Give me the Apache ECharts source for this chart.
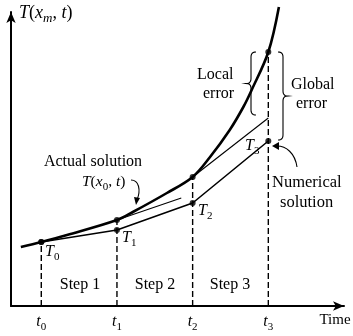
<!DOCTYPE html>
<html><head><meta charset="utf-8">
<script src="https://cdn.jsdelivr.net/npm/echarts@6/dist/echarts.min.js"></script>
<style>html,body{margin:0;padding:0;background:#fff}#c{width:353px;height:336px}</style>
</head><body><div id="c"></div>
<script>
// ---- data ----
const stepTimes = [0.4, 1.4, 2.4, 3.4];          // t0..t3
const timeSubs = ['0', '1', '2', '3'];
const curveTime = [0.13, 0.4, 0.74, 1.4, 1.61, 2.06, 2.4, 2.63, 2.89, 3.07, 3.18, 3.4, 3.54];
const curveT    = [5.9, 6.4, 7.1, 8.6, 9.4, 11.3, 12.9, 14.9, 17.6, 19.9, 21.6, 25.4, 29.9];
const actualAtSteps = [6.4, 8.6, 12.9, 25.4];
const numericalT    = [6.4, 7.6, 10.3, 16.5];
const tangentFromT1 = [[1.4, 8.6], [2.25, 10.8]];
const tangentFromT2 = [[2.4, 12.9], [3.4, 18.8]];
const stepLabels = ['Step 1', 'Step 2', 'Step 3'];

const SERIF = '"Liberation Serif","DejaVu Serif",serif';
const cv = document.createElement('canvas').getContext('2d');
function measure(txt, size, italic) {
  cv.font = (italic ? 'italic ' : '') + size + 'px ' + SERIF;
  return cv.measureText(txt).width;
}
function rich(x, y, segs, size, align) {
  const subSize = Math.round(size * 0.7);
  let widths = segs.map(s => measure(s.t, s.sub ? subSize : size, s.it));
  let total = widths.reduce((a, b) => a + b, 0);
  let cx = align === 'center' ? x - total / 2 : x;
  const els = [];
  segs.forEach((s, i) => {
    els.push({
      type: 'text', x: cx, y: y + (s.sub ? size * 0.3 : 0), silent: true,
      style: { text: s.t, font: (s.it ? 'italic ' : '') + (s.sub ? subSize : size) + 'px ' + SERIF,
               fill: '#000', align: 'left', verticalAlign: 'middle' }
    });
    cx += widths[i];
  });
  return els;
}
function brace(xs, y1, y2, dir) {
  const pts = [];
  const ym = (y1 + y2) / 2, d = 5;
  const arc = (p0, p1, p2, n) => { for (let k = 0; k <= n; k++) { const u = k / n;
    pts.push([(1-u)*(1-u)*p0[0] + 2*u*(1-u)*p1[0] + u*u*p2[0], (1-u)*(1-u)*p0[1] + 2*u*(1-u)*p1[1] + u*u*p2[1]]); } };
  arc([xs - dir*d, y1], [xs, y1], [xs, y1 + d], 6);
  arc([xs, ym - d], [xs, ym], [xs + dir*d*0.9, ym], 6);
  arc([xs + dir*d*0.9, ym], [xs, ym], [xs, ym + d], 6);
  arc([xs, y2 - d], [xs, y2], [xs - dir*d, y2], 6);
  return { type: 'polyline', silent: true, shape: { points: pts }, style: { stroke: '#000', lineWidth: 1.1, fill: null } };
}

const chart = echarts.init(document.getElementById('c'));
const series = [];
stepTimes.forEach((t, i) => {
  series.push({ type: 'line', data: [[t, 0], [t, actualAtSteps[i]]], symbol: 'none', silent: true,
    lineStyle: { color: '#000', width: 1.4, type: [6, 3] } });
});
series.push({ type: 'line', data: curveTime.map((t, i) => [t, curveT[i]]), smooth: 0.35, symbol: 'none', clip: false,
  lineStyle: { color: '#000', width: 2.6 } });
series.push({ type: 'line', data: stepTimes.map((t, i) => [t, numericalT[i]]), symbol: 'none',
  lineStyle: { color: '#000', width: 1.6 } });
[tangentFromT1, tangentFromT2].forEach(seg => series.push({ type: 'line', data: seg, symbol: 'none',
  lineStyle: { color: '#000', width: 1.1 } }));
series.push({ type: 'scatter', symbolSize: 6, itemStyle: { color: '#000' }, z: 5,
  data: stepTimes.map((t, i) => [t, actualAtSteps[i]]).concat(stepTimes.map((t, i) => [t, numericalT[i]])) });

const axisCommon = { type: 'value', min: 0, axisTick: { show: false }, axisLabel: { show: false }, splitLine: { show: false },
  axisLine: { show: true, symbol: ['none', 'arrow'], symbolSize: [7, 11], lineStyle: { color: '#000', width: 2 } } };

let g = [];
g = g.concat(rich(19, 13, [{ t: 'T', it: true }, { t: '(', it: false }, { t: 'x', it: true }, { t: 'm', it: true, sub: true }, { t: ', ', it: false }, { t: 't', it: true }, { t: ')', it: false }], 18));
g = g.concat(rich(82, 182, [{ t: 'T', it: true }, { t: '(', it: false }, { t: 'x', it: true }, { t: '0', sub: true }, { t: ', ', it: false }, { t: 't', it: true }, { t: ')', it: false }], 15.5));
g = g.concat(rich(93 - measure('Actual solution', 16) / 2, 162, [{ t: 'Actual solution' }], 16));
g = g.concat(rich(197, 75, [{ t: 'Local' }], 16));
g = g.concat(rich(203, 94, [{ t: 'error' }], 16));
g = g.concat(rich(291, 85, [{ t: 'Global' }], 16));
g = g.concat(rich(296, 104, [{ t: 'error' }], 16));
g = g.concat(rich(272, 183, [{ t: 'Numerical' }], 16.5));
g = g.concat(rich(280, 203, [{ t: 'solution' }], 16.5));
g = g.concat(rich(335, 320, [{ t: 'Time' }], 15, 'center'));
const Tlab = [[45, 252], [122, 238], [198, 211], [245, 146]];
Tlab.forEach((p, i) => { g = g.concat(rich(p[0], p[1], [{ t: 'T', it: true }, { t: timeSubs[i], sub: true }], 16)); });
stepLabels.forEach((s, i) => { g = g.concat(rich(80 + 75 * i, 285, [{ t: s }], 16, 'center')); });

g.push(brace(251, 52, 115, -1));
g.push(brace(283, 52, 140, 1));
g.push({ type: 'bezierCurve', silent: true, shape: { x1: 131, y1: 180, cpx1: 139, cpy1: 180, cpx2: 141, cpy2: 190, x2: 137, y2: 200 },
  style: { stroke: '#000', lineWidth: 1.1, fill: null } });
g.push({ type: 'polygon', silent: true, shape: { points: [[134, 197], [140, 198], [136, 205]] }, style: { fill: '#000' } });
g.push({ type: 'bezierCurve', silent: true, shape: { x1: 297, y1: 167, cpx1: 295, cpy1: 153, cpx2: 286, cpy2: 146, x2: 277, y2: 146 },
  style: { stroke: '#000', lineWidth: 1.1, fill: null } });
g.push({ type: 'polygon', silent: true, shape: { points: [[279, 142], [279, 150], [272, 146]] }, style: { fill: '#000' } });

chart.setOption({
  animation: false,
  grid: { left: 11, right: 9, top: 12, bottom: 30 },
  xAxis: Object.assign({}, axisCommon, { max: 4.4 }),
  yAxis: Object.assign({}, axisCommon, { max: 29.4 }),
  series: series,
  graphic: g
});
const tl = [];
stepTimes.forEach((t, i) => {
  const px = chart.convertToPixel({ xAxisIndex: 0 }, t);
  rich(px, 322, [{ t: 't', it: true }, { t: timeSubs[i], sub: true }], 16, 'center').forEach(e => tl.push(e));
});
chart.setOption({ graphic: g.concat(tl) });
</script></body></html>
